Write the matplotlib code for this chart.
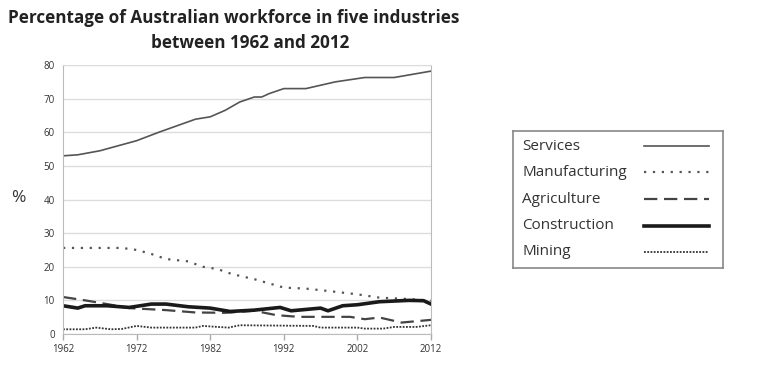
import matplotlib
matplotlib.use("Agg")
import matplotlib.pyplot as plt

plt.rcParams['font.family'] = ['Open Sans', 'DejaVu Sans']

# values (% of workforce)
services_years = [1962, 1964, 1967, 1970, 1972, 1975, 1980, 1982, 1984, 1986,
                  1988, 1989, 1990, 1992, 1995, 1999, 2003, 2007, 2012]
services = [53, 53.3, 54.5, 56.3, 57.5, 60, 63.9, 64.6, 66.5, 69,
            70.5, 70.5, 71.5, 73, 73, 75, 76.3, 76.3, 78.2]

manuf_years = [1962, 1966, 1970, 1972, 1974, 1976, 1979, 1981, 1983, 1985,
               1988, 1992, 1995, 1998, 2002, 2005, 2009, 2012]
manufacturing = [25.6, 25.6, 25.6, 25, 23.8, 22.3, 21.6, 20, 19.3, 17.8,
                 16.3, 13.8, 13.5, 12.8, 11.8, 10.8, 10.4, 9.9]

agri_years = [1962, 1965, 1968, 1971, 1976, 1980, 1984, 1988, 1991, 1994,
              2001, 2003, 2005, 2008, 2012]
agriculture = [11, 10, 8.9, 7.7, 7.1, 6.4, 6.3, 6.9, 5.6, 5.1,
               5.1, 4.4, 4.9, 3.4, 4.2]

constr_years = [1962, 1964, 1965, 1968, 1971, 1974, 1976, 1979, 1982, 1984.7,
                1988, 1991.5, 1993, 1997, 1998, 2000, 2002, 2005, 2009, 2011, 2012]
construction = [8.4, 7.7, 8.4, 8.4, 7.9, 8.9, 8.9, 8.1, 7.7, 6.7,
                7.1, 7.9, 6.9, 7.7, 6.9, 8.4, 8.7, 9.6, 10, 9.9, 8.9]

mining_years = [1962, 1965, 1966.5, 1968.5, 1970, 1972, 1974, 1980, 1981, 1983,
                1984.5, 1986, 1996, 1997, 2002, 2003, 2005.5, 2007, 2010, 2012]
mining = [1.4, 1.4, 1.9, 1.4, 1.5, 2.4, 1.9, 1.9, 2.4, 2.1,
          1.9, 2.6, 2.4, 1.9, 1.9, 1.6, 1.6, 2.1, 2.1, 2.6]

xticks = [1962, 1972, 1982, 1992, 2002, 2012]
yticks = [0, 10, 20, 30, 40, 50, 60, 70, 80]

names = ['Services', 'Manufacturing', 'Agriculture', 'Construction', 'Mining']
styles = [
    dict(color='#555555', lw=1.2, ls='-'),
    dict(color='#555555', lw=1.6, ls=(0, (1, 3))),
    dict(color='#444444', lw=1.6, ls=(0, (6, 3))),
    dict(color='#1a1a1a', lw=2.6, ls='-'),
    dict(color='#333333', lw=1.3, ls=(0, (1, 0.8))),
]

fig = plt.figure(figsize=(7.78, 3.85), dpi=100)
ax = fig.add_axes([0.081, 0.1325, 0.473, 0.6985])

series = [(services_years, services), (manuf_years, manufacturing),
          (agri_years, agriculture), (constr_years, construction),
          (mining_years, mining)]
for (xs, ys), st in zip(series, styles):
    ax.plot(xs, ys, **st)

ax.set_xlim(1962, 2012)
ax.set_ylim(0, 80)
ax.set_xticks(xticks)
ax.set_yticks(yticks)
ax.tick_params(axis='y', length=0, labelsize=7, colors='#333333', pad=6)
ax.tick_params(axis='x', length=4, width=1, color='#aaaaaa', labelsize=7,
               labelcolor='#333333', pad=3)
ax.grid(axis='y', color='#dddddd', lw=1)
for s in ax.spines.values():
    s.set_color('#bbbbbb')
ax.spines['top'].set_color('#dddddd')
ax.set_axisbelow(True)

fig.text(0.023, 0.485, '%', fontsize=12.5, color='#333333', va='center', ha='center')

fig.text(0.300, 0.953, 'Percentage of Australian workforce in five industries',
         fontsize=12.3, fontweight='bold', color='#222222', ha='center', va='center')
fig.text(0.322, 0.888, 'between 1962 and 2012',
         fontsize=12.3, fontweight='bold', color='#222222', ha='center', va='center')

# legend box drawn as its own axes
lg = fig.add_axes([0.659, 0.304, 0.270, 0.357])
lg.set_xlim(0, 1)
lg.set_ylim(0, 1)
lg.set_xticks([])
lg.set_yticks([])
for s in lg.spines.values():
    s.set_color('#888888')
    s.set_linewidth(1.2)
rows = [0.885, 0.697, 0.5, 0.307, 0.117]
for name, st, yy in zip(names, styles, rows):
    lg.text(0.045, yy, name, fontsize=11, color='#333333', va='center')
    lg.plot([0.625, 0.935], [yy, yy], **st)

fig.savefig('out.png', dpi=100)
